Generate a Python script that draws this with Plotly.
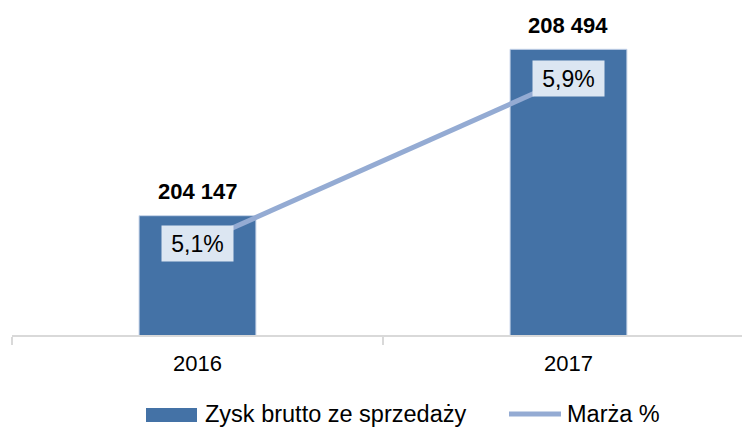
import plotly.graph_objects as go

years = ["2016", "2017"]
zysk = [204147, 208494]
marza = [5.1, 5.9]
marza_labels = ["5,1%", "5,9%"]
legend_names = ["Zysk brutto ze sprzedaży", "Marża %"]

FONT = "Liberation Sans, Arial, sans-serif"
BAR_COLOR = "#4472a6"
LINE_COLOR = "#94abd3"
BOX_COLOR = "#dce6f2"

# plot area in pixels: x 12..742, y 10..335
L, R, T, B = 12, 742, 10, 335
def px_x(p):
    return (p - L) / (R - L)
def px_y(p):
    return (B - p) / (B - T)

fig = go.Figure()
fig.add_trace(go.Bar(
    x=years, y=zysk, name=legend_names[0], showlegend=False,
    marker=dict(color=BAR_COLOR, line=dict(color="#c9d6ea", width=1)),
    width=0.315, yaxis="y", hoverinfo="skip",
))
fig.add_trace(go.Scatter(
    x=years, y=marza, name=legend_names[1], mode="lines", showlegend=False,
    line=dict(color=LINE_COLOR, width=5), yaxis="y2", hoverinfo="skip",
))

annotations = []
for i, v in enumerate(zysk):
    annotations.append(dict(
        x=i, y=v, xref="x", yref="y", text=f"{v:,}".replace(",", " "),
        showarrow=False, yshift=24,
        font=dict(family=FONT, size=22, color="black", weight="bold"),
    ))
for i, (m, lab) in enumerate(zip(marza, marza_labels)):
    annotations.append(dict(
        x=i, y=m, xref="x", yref="y2", text=lab, showarrow=False,
        bgcolor=BOX_COLOR, width=71, height=35, align="center", valign="middle",
        font=dict(family=FONT, size=23, color="black"), borderpad=0,
    ))

# manual legend
shapes = [
    dict(type="rect", xref="paper", yref="paper",
         x0=px_x(146), x1=px_x(197), y0=px_y(422), y1=px_y(408),
         fillcolor=BAR_COLOR, line=dict(width=0)),
    dict(type="line", xref="paper", yref="paper",
         x0=px_x(509), x1=px_x(561), y0=px_y(414), y1=px_y(414),
         line=dict(color=LINE_COLOR, width=5)),
]
annotations.append(dict(xref="paper", yref="paper", x=px_x(203), y=px_y(414),
                        xanchor="left", yanchor="middle", text=legend_names[0], showarrow=False,
                        font=dict(family=FONT, size=23.5, color="black")))
annotations.append(dict(xref="paper", yref="paper", x=px_x(565), y=px_y(414),
                        xanchor="left", yanchor="middle", text=legend_names[1], showarrow=False,
                        font=dict(family=FONT, size=23.5, color="black")))

fig.update_layout(
    width=742, height=428,
    margin=dict(l=L, r=0, t=T, b=428 - B),
    paper_bgcolor="white", plot_bgcolor="white",
    font=dict(family=FONT, size=22, color="black"),
    showlegend=False,
    hovermode=False,
    xaxis=dict(type="category", range=[-0.5, 1.4677], showline=True, linecolor="#d9d9d9", linewidth=2,
               ticks="outside", tickson="boundaries", ticklen=8, tickcolor="#d9d9d9",
               tickwidth=2, showgrid=False, tickfont=dict(family=FONT, size=22, color="black"),
               ticklabelstandoff=8),
    yaxis=dict(range=[201030, 209520], visible=False, showgrid=False),
    yaxis2=dict(range=[4.658, 6.229], overlaying="y", visible=False, showgrid=False),
    annotations=annotations,
    shapes=shapes,
)

fig.write_html("out.html", config={"displayModeBar": False},
               post_script="document.body.style.margin='0';")
